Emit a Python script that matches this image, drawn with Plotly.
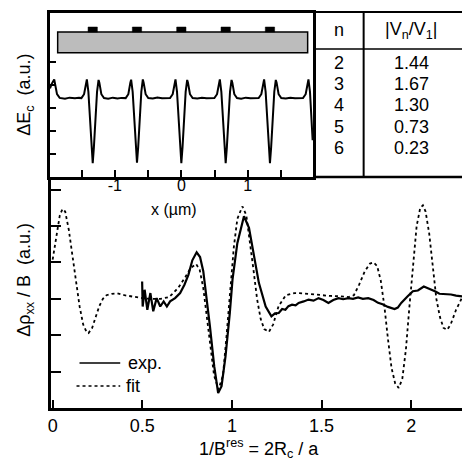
import plotly.graph_objects as go

# ---------------- data ----------------
# main panel: fit (dotted) and experiment (solid), x = 1/B^res = 2Rc/a
fit_x = [0.00, 0.02, 0.04, 0.055, 0.07, 0.09, 0.11, 0.13, 0.15, 0.17, 0.19, 0.20, 0.22, 0.24,
         0.26, 0.28, 0.30, 0.33, 0.36, 0.40, 0.45, 0.50, 0.55, 0.60, 0.65, 0.70, 0.74, 0.77,
         0.80, 0.82, 0.84, 0.86, 0.88, 0.90, 0.925, 0.95, 0.97, 0.99, 1.01, 1.03, 1.058, 1.08,
         1.10, 1.12, 1.14, 1.16, 1.18, 1.206, 1.23, 1.26, 1.30, 1.35, 1.40, 1.45, 1.50, 1.55,
         1.60, 1.65, 1.68, 1.71, 1.74, 1.77, 1.79, 1.81, 1.83, 1.85, 1.87, 1.89, 1.91, 1.93,
         1.95, 1.97, 1.99, 2.01, 2.03, 2.05, 2.065, 2.08, 2.10, 2.12, 2.14, 2.16, 2.18, 2.20,
         2.22, 2.25, 2.285]
fit_y = [4.08, 4.75, 5.3, 5.47, 5.4, 4.9, 4.2, 3.4, 2.8, 2.3, 2.08, 2.06, 2.2, 2.5,
         2.8, 3.0, 3.1, 3.14, 3.15, 3.1, 3.05, 3.02, 3.0, 3.0, 3.05, 3.3, 3.6, 3.85,
         3.96, 3.8, 3.3, 2.5, 1.6, 0.9, 0.51, 0.9, 2.0, 3.3, 4.4, 5.2, 5.54, 5.3,
         4.6, 3.8, 3.0, 2.45, 2.17, 2.09, 2.3, 2.8, 3.1, 3.16, 3.15, 3.12, 3.1, 3.08,
         3.07, 3.05, 3.1, 3.4, 3.75, 3.97, 4.0, 3.9, 3.5, 2.8, 1.9, 1.1, 0.68, 0.55,
         0.8, 1.6, 2.8, 4.0, 5.0, 5.5, 5.57, 5.4, 4.8, 3.9, 3.0, 2.5, 2.2, 2.15,
         2.3, 2.7, 3.05]

exp_x = [0.499, 0.502, 0.513, 0.528, 0.545, 0.561, 0.58, 0.60, 0.619, 0.637, 0.655, 0.683,
         0.711, 0.735, 0.757, 0.779, 0.803, 0.822, 0.84, 0.859, 0.877, 0.901, 0.923, 0.942,
         0.964, 0.988, 1.003, 1.03, 1.067, 1.095, 1.123, 1.15, 1.188, 1.22, 1.24, 1.261,
         1.28, 1.298, 1.315, 1.335, 1.355, 1.372, 1.40, 1.427, 1.455, 1.483, 1.51, 1.538,
         1.565, 1.594, 1.62, 1.649, 1.675, 1.704, 1.73, 1.76, 1.79, 1.815, 1.84, 1.87,
         1.907, 1.925, 1.944, 1.96, 1.98, 2.009, 2.037, 2.07, 2.09, 2.11, 2.135, 2.157,
         2.19, 2.222, 2.25, 2.285]
exp_y = [3.48, 2.79, 3.25, 2.70, 3.16, 2.66, 3.02, 2.79, 2.93, 2.79, 2.93, 3.02,
         3.16, 3.39, 3.66, 4.06, 4.28, 4.15, 3.76, 3.02, 2.25, 1.15, 0.41, 0.60,
         1.42, 2.61, 3.53, 4.53, 5.27, 4.95, 4.17, 3.44, 2.79, 2.52, 2.6, 2.61,
         2.72, 2.70, 2.8, 2.84, 2.82, 2.89, 2.93, 2.98, 2.95, 3.02, 2.97, 2.89,
         2.97, 3.02, 2.99, 3.02, 3.0, 3.04, 3.0, 3.02, 2.97, 2.89, 2.85, 2.78,
         2.72, 2.76, 2.89, 2.98, 3.07, 3.21, 3.23, 3.34, 3.3, 3.25, 3.2, 3.14,
         3.13, 3.12, 3.09, 3.07]

# inset: conduction-band modulation dE_c versus x (um)
inset_x = [-1.975, -1.95, -1.912, -1.90, -1.87, -1.83, -1.75, -1.68, -1.60, -1.54,
           -1.503, -1.463, -1.433, -1.421, -1.398, -1.373, -1.351, -1.333, -1.315, -1.293,
           -1.268, -1.245, -1.233, -1.203, -1.163, -1.10, -1.03, -0.96, -0.90,
           -0.837, -0.797, -0.767, -0.755, -0.732, -0.707, -0.685, -0.667, -0.649, -0.627,
           -0.602, -0.579, -0.567, -0.537, -0.497, -0.43, -0.36, -0.29, -0.23,
           -0.17, -0.13, -0.10, -0.088, -0.065, -0.04, -0.018, 0.0, 0.018, 0.04,
           0.065, 0.088, 0.10, 0.13, 0.17, 0.24, 0.31, 0.38, 0.44,
           0.497, 0.537, 0.567, 0.579, 0.602, 0.627, 0.649, 0.667, 0.685, 0.707,
           0.732, 0.755, 0.767, 0.797, 0.837, 0.90, 0.97, 1.04, 1.11,
           1.163, 1.203, 1.233, 1.245, 1.268, 1.293, 1.315, 1.333, 1.351, 1.373,
           1.398, 1.421, 1.433, 1.463, 1.503, 1.57, 1.64, 1.71, 1.78,
           1.83, 1.87, 1.90, 1.912, 1.935, 1.96, 1.975]
inset_y = [3.85, 4.05, 4.24, 4.05, 3.6, 3.44, 3.40, 3.45, 3.42, 3.44,
           3.43, 3.6, 4.1, 4.24, 3.7, 2.5, 1.3, 0.6, 1.3, 2.5,
           3.7, 4.22, 4.1, 3.6, 3.43, 3.40, 3.45, 3.41, 3.44,
           3.43, 3.6, 4.1, 4.23, 3.7, 2.5, 1.3, 0.62, 1.3, 2.5,
           3.7, 4.24, 4.1, 3.6, 3.43, 3.41, 3.46, 3.42, 3.44,
           3.43, 3.6, 4.1, 4.24, 3.7, 2.5, 1.3, 0.6, 1.3, 2.5,
           3.7, 4.22, 4.1, 3.6, 3.43, 3.41, 3.45, 3.42, 3.44,
           3.43, 3.6, 4.1, 4.24, 3.7, 2.5, 1.3, 0.6, 1.3, 2.5,
           3.7, 4.22, 4.1, 3.6, 3.43, 3.40, 3.45, 3.42, 3.44,
           3.43, 3.6, 4.1, 4.24, 3.7, 2.5, 1.3, 0.6, 1.3, 2.5,
           3.7, 4.22, 4.1, 3.6, 3.43, 3.41, 3.45, 3.42, 3.44,
           3.43, 3.6, 4.1, 4.24, 3.7, 2.5, 1.6]

# gate positions (um) on top of the heterostructure sketch
gate_x = [-1.333, -0.667, 0.0, 0.667, 1.333]

# table of Fourier components
table_n = ["2", "3", "4", "5", "6"]
table_ratio = ["1.44", "1.67", "1.30", "0.73", "0.23"]

main_xticks = [0, 0.5, 1, 1.5, 2]
main_xticktext = ["0", "0.5", "1", "1.5", "2"]

# ---------------- figure ----------------
W, H = 462, 464
def fx(p):
    return p / W
def fy(p):
    return 1 - p / H

FONT = "Liberation Sans, Arial, Helvetica, sans-serif"

fig = go.Figure()
fig.add_trace(go.Scatter(x=fit_x, y=fit_y, mode="lines", name="fit",
                         line=dict(color="black", width=1.8, dash="dot"),
                         xaxis="x", yaxis="y", showlegend=False))
fig.add_trace(go.Scatter(x=exp_x, y=exp_y, mode="lines", name="exp.",
                         line=dict(color="black", width=2.2),
                         xaxis="x", yaxis="y", showlegend=False))
fig.add_trace(go.Scatter(x=inset_x, y=inset_y, mode="lines", name="dEc",
                         line=dict(color="black", width=2),
                         xaxis="x2", yaxis="y2", showlegend=False))

shapes = []
# heterostructure sketch (gray box) and gates
shapes.append(dict(type="rect", xref="x2", yref="y2", x0=-1.86, x1=1.90, y0=5.40, y1=6.30,
                   fillcolor="#bcbcbc", line=dict(color="black", width=1.5), layer="above"))
for g in gate_x:
    shapes.append(dict(type="rect", xref="x2", yref="y2", x0=g - 0.07, x1=g + 0.07,
                       y0=6.30, y1=6.52, fillcolor="black", line=dict(color="black", width=0.5)))

# table lines
def hline(y, x0, x1, w=2):
    return dict(type="line", xref="paper", yref="paper", x0=fx(x0), x1=fx(x1),
                y0=fy(y), y1=fy(y), line=dict(color="black", width=w))
def vline(x, y0, y1, w=2):
    return dict(type="line", xref="paper", yref="paper", x0=fx(x), x1=fx(x),
                y0=fy(y0), y1=fy(y1), line=dict(color="black", width=w))
shapes += [hline(12, 312, 462), hline(49, 312, 462, 1.5), hline(177, 312, 462, 2.5),
           vline(363, 12, 177, 2)]

# legend samples
shapes.append(dict(type="line", xref="paper", yref="paper", x0=fx(77), x1=fx(118),
                   y0=fy(363), y1=fy(363), line=dict(color="black", width=1.5)))
shapes.append(dict(type="line", xref="paper", yref="paper", x0=fx(74), x1=fx(118),
                   y0=fy(386), y1=fy(386), line=dict(color="black", width=1.5, dash="dot")))

ann = []
def text(x, y, s, size=18, **kw):
    d = dict(x=fx(x), y=fy(y), xref="paper", yref="paper", text=s, showarrow=False,
             font=dict(family=FONT, size=size, color="black"), xanchor="center", yanchor="middle")
    d.update(kw)
    ann.append(d)

text(338, 30, "n")
text(411, 30, "|V<sub>n</sub>/V<sub>1</sub>|")
row_y = [63, 84, 105, 127, 148]
for n, r, yy in zip(table_n, table_ratio, row_y):
    text(338, yy, n)
    text(411, yy, r)

text(124, 363, "exp.", xanchor="left")
text(122, 386, "fit", xanchor="left")
text(172, 209, "x (µm)", size=16)
text(258, 448, "1/B<sup>res</sup> = 2R<sub>c</sub> / a")
text(22, 95, "ΔE<sub>c</sub>  (a.u.)", textangle=-90)
text(22, 280, "Δρ<sub>xx</sub> / B  (a.u.)", textangle=-90)

axis_common = dict(showgrid=False, zeroline=False, showline=True, linecolor="black",
                   ticks="inside", tickcolor="black")

fig.update_layout(
    width=W, height=H, autosize=False,
    margin=dict(l=0, r=0, t=0, b=0),
    paper_bgcolor="white", plot_bgcolor="rgba(0,0,0,0)",
    font=dict(family=FONT, size=18, color="black"),
    xaxis=dict(domain=[fx(48), 1.0], range=[-0.011, 2.283], anchor="y",
               linewidth=2.5, ticklen=8, tickwidth=2,
               tickvals=main_xticks, ticktext=main_xticktext,
               tickfont=dict(size=18), **axis_common),
    yaxis=dict(domain=[fy(408), fy(177)], range=[0, 6.35], anchor="x",
               linewidth=2.5, ticklen=11, tickwidth=2,
               tickvals=[1, 2, 3, 4, 5, 6], showticklabels=False, **axis_common),
    xaxis2=dict(domain=[fx(47), fx(312)], range=[-1.98, 1.98], anchor="y2",
                linewidth=2.5, mirror=True, ticklen=7, tickwidth=1.5,
                tickvals=[-1, 0, 1], ticktext=["-1", "0", "1"], ticklabelstandoff=-8,
                minor=dict(tickvals=[-1.5, -0.5, 0.5, 1.5], ticks="inside",
                           ticklen=7, tickwidth=1.5, tickcolor="black"),
                tickfont=dict(size=16), **axis_common),
    yaxis2=dict(domain=[fy(177), fy(13)], range=[0, 7.13], anchor="x2",
                linewidth=2.5, mirror=True, ticklen=7, tickwidth=1.5,
                tickvals=[1, 2, 3, 4, 5], showticklabels=False, **axis_common),
    shapes=shapes,
    annotations=ann,
)

fig.write_html("out.html", config={"displayModeBar": False},
               post_script="document.body.style.margin='0px';document.body.style.overflow='hidden';")
